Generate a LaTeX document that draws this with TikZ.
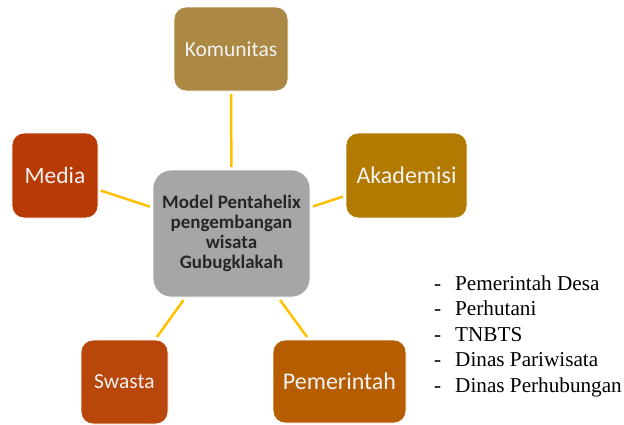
\documentclass[tikz,border=0pt]{standalone}
\usepackage{fontspec}
\setmainfont{Carlito}
\newfontfamily\listfont{Liberation Serif}
\begin{document}
\begin{tikzpicture}[x=1pt,y=-1pt,
  helix/.style={rounded corners=12pt, draw=white, line width=0.8pt,
    text=white!95!black, inner sep=0pt, outer sep=3pt, align=center},
  fs/.style={font=\fontsize{#1}{#1}\selectfont},
  hub/.style={rounded corners=18pt, fill=hubgray, draw=white, line width=0.8pt,
    font=\bfseries\fontsize{19}{20}\selectfont, text=black!85,
    minimum width=157pt, minimum height=127pt, inner sep=0pt, outer sep=3pt, align=center},
  link/.style={draw=linkyellow, line width=2.5pt},
  item/.style={font=\listfont\fontsize{21.2}{24}\selectfont, anchor=base west, inner sep=0pt}]
\definecolor{hubgray}{HTML}{A6A6A6}
\definecolor{linkyellow}{HTML}{FFC000}
\definecolor{komcol}{HTML}{AB8944}
\definecolor{medcol}{HTML}{B83A04}
\definecolor{akacol}{HTML}{B27A00}
\definecolor{swacol}{HTML}{B9470B}
\definecolor{pemcol}{HTML}{B55D00}
\useasboundingbox (0,0) rectangle (624,424);

% central hub and the five stakeholder boxes
\node[hub] (hub) at (231.5,233.5) {Model Pentahelix\\pengembangan\\wisata\\Gubugklakah};
\node[helix, fs=21.5, fill=komcol, minimum width=114pt, minimum height=84pt] (kom) at (231,49) {Komunitas};
\node[helix, fs=23.5, fill=medcol, minimum width=86pt, minimum height=85pt] (med) at (55,175.5) {Media};
\node[helix, fs=24, fill=akacol, minimum width=121pt, minimum height=85pt] (aka) at (406.5,175.5) {Akademisi};
\node[helix, fs=21.5, fill=swacol, minimum width=87pt, minimum height=84pt] (swa) at (124.5,382) {Swasta};
\node[helix, fs=24, fill=pemcol, minimum width=133pt, minimum height=83pt] (pem) at (339.5,381.5) {Pemerintah};

% connectors from the hub
\foreach \n in {kom,med,aka,swa,pem}
  \draw[link] (hub) -- (\n);

% list of government bodies
\foreach \t [count=\i from 0] in {Pemerintah Desa,Perhutani,TNBTS,Dinas Pariwisata,Dinas Perhubungan}{
  \node[item] (dash\i) at (434,290+25.5*\i) {-};
  \node[item] (gov\i) at (455,290+25.5*\i) {\t};
}
\end{tikzpicture}
\end{document}
